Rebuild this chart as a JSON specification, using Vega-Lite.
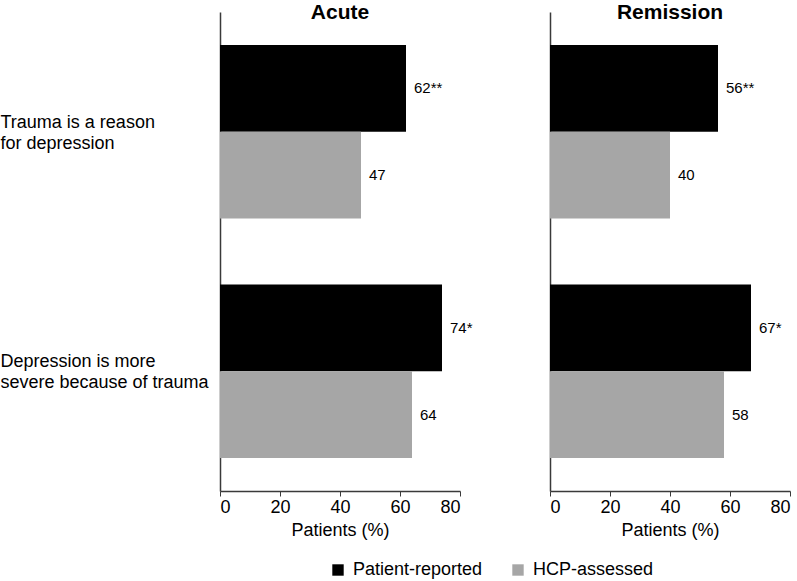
{
  "$schema": "https://vega.github.io/schema/vega-lite/v6.json",
  "padding": {"left": 0, "top": 2, "right": 5, "bottom": 5},
  "config": {
    "font": "Liberation Sans",
    "view": {"stroke": null},
    "axis": {"grid": false, "domainColor": "#3a3a3a", "domainWidth": 1.5, "tickColor": "#3a3a3a", "labelColor": "#000000", "titleColor": "#000000", "labelFont": "Liberation Sans", "titleFont": "Liberation Sans"},
    "title": {"font": "Liberation Sans", "fontSize": 21, "fontWeight": "bold", "color": "#000000"}
  },
  "data": {
    "values": [
      {"phase": "Acute", "item": "Trauma is a reason for depression", "source": "Patient-reported", "value": 62, "label": "62**"},
      {"phase": "Acute", "item": "Trauma is a reason for depression", "source": "HCP-assessed", "value": 47, "label": "47"},
      {"phase": "Acute", "item": "Depression is more severe because of trauma", "source": "Patient-reported", "value": 74, "label": "74*"},
      {"phase": "Acute", "item": "Depression is more severe because of trauma", "source": "HCP-assessed", "value": 64, "label": "64"},
      {"phase": "Remission", "item": "Trauma is a reason for depression", "source": "Patient-reported", "value": 56, "label": "56**"},
      {"phase": "Remission", "item": "Trauma is a reason for depression", "source": "HCP-assessed", "value": 40, "label": "40"},
      {"phase": "Remission", "item": "Depression is more severe because of trauma", "source": "Patient-reported", "value": 67, "label": "67*"},
      {"phase": "Remission", "item": "Depression is more severe because of trauma", "source": "HCP-assessed", "value": 58, "label": "58"}
    ]
  },
  "spacing": 76,
  "hconcat": [
    {
      "width": 240,
      "height": 479,
      "title": {"text": "Acute", "offset": -11},
      "transform": [{"filter": "datum.phase == 'Acute'"}],
      "encoding": {
        "y": {
          "field": "item", "type": "nominal",
          "sort": ["Trauma is a reason for depression", "Depression is more severe because of trauma"],
          "scale": {"paddingInner": 0.275, "paddingOuter": 0.1375},
          "axis": {
            "title": null, "ticks": false, "labelAlign": "left", "labelPadding": 220, "labelFontSize": 18, "labelLineHeight": 21, "labelLimit": 0, "labelOffset": -9,
            "labelExpr": "datum.value == 'Trauma is a reason for depression' ? ['Trauma is a reason', 'for depression'] : ['Depression is more', 'severe because of trauma']"
          }
        },
        "yOffset": {"field": "source", "type": "nominal", "sort": ["Patient-reported", "HCP-assessed"], "scale": {"paddingInner": 0, "paddingOuter": 0}},
        "x": {
          "field": "value", "type": "quantitative",
          "scale": {"domain": [0, 80]},
          "axis": {"values": [0, 20, 40, 60, 80], "title": "Patients (%)", "titleFontSize": 18, "titleFontWeight": "normal", "titlePadding": 5, "labelFontSize": 18, "tickSize": 5, "labelPadding": 2}
        }
      },
      "layer": [
        {
          "mark": {"type": "bar"},
          "encoding": {
            "color": {
              "field": "source", "type": "nominal",
              "scale": {"domain": ["Patient-reported", "HCP-assessed"], "range": ["#000000", "#a6a6a6"]},
              "legend": {
                "title": null, "orient": "none", "direction": "horizontal", "legendX": 109, "legendY": 549,
                "symbolType": "square", "symbolSize": 130, "symbolStrokeWidth": 0, "labelFontSize": 18, "labelOffset": 6, "columnPadding": 26, "labelColor": "#000000"
              }
            }
          }
        },
        {
          "mark": {"type": "text", "align": "left", "baseline": "middle", "dx": 8, "fontSize": 15, "color": "#000000"},
          "encoding": {"text": {"field": "label"}}
        }
      ]
    },
    {
      "width": 240,
      "height": 479,
      "title": {"text": "Remission", "offset": -11},
      "transform": [{"filter": "datum.phase == 'Remission'"}],
      "encoding": {
        "y": {
          "field": "item", "type": "nominal",
          "sort": ["Trauma is a reason for depression", "Depression is more severe because of trauma"],
          "scale": {"paddingInner": 0.275, "paddingOuter": 0.1375},
          "axis": {"title": null, "ticks": false, "labels": false}
        },
        "yOffset": {"field": "source", "type": "nominal", "sort": ["Patient-reported", "HCP-assessed"], "scale": {"paddingInner": 0, "paddingOuter": 0}},
        "x": {
          "field": "value", "type": "quantitative",
          "scale": {"domain": [0, 80]},
          "axis": {"values": [0, 20, 40, 60, 80], "title": "Patients (%)", "titleFontSize": 18, "titleFontWeight": "normal", "titlePadding": 5, "labelFontSize": 18, "tickSize": 5, "labelPadding": 2}
        }
      },
      "layer": [
        {
          "mark": {"type": "bar"},
          "encoding": {
            "color": {
              "field": "source", "type": "nominal",
              "scale": {"domain": ["Patient-reported", "HCP-assessed"], "range": ["#000000", "#a6a6a6"]}
            }
          }
        },
        {
          "mark": {"type": "text", "align": "left", "baseline": "middle", "dx": 8, "fontSize": 15, "color": "#000000"},
          "encoding": {"text": {"field": "label"}}
        }
      ]
    }
  ]
}
